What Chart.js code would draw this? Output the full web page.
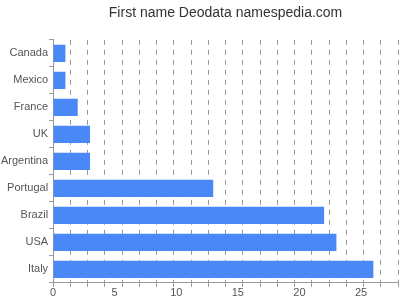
<!DOCTYPE html>
<html>
<head>
<meta charset="utf-8">
<script src="https://cdn.jsdelivr.net/npm/chart.js@4"></script>
<style>
    html, body { margin: 0; padding: 0; background: #fff; }
    #wrap { width: 400px; height: 300px; }
</style>
</head>
<body>
<div id="wrap"><canvas id="chart"></canvas></div>
<script>
const countries = ['Canada', 'Mexico', 'France', 'UK', 'Argentina', 'Portugal', 'Brazil', 'USA', 'Italy'];
const counts = [1, 1, 2, 3, 3, 13, 22, 23, 26];
const xLabelTicks = [0, 5, 10, 15, 20, 25];
const xMax = 28;
const gridStep = 1.4;

const tickFont = { family: 'Liberation Sans, Arial, sans-serif', size: 11 };

new Chart('chart', {
    type: 'bar',
    data: {
        labels: countries,
        datasets: [{
            data: counts,
            backgroundColor: '#4a88f8',
            borderWidth: 0,
            barPercentage: 0.8,
            categoryPercentage: 0.8,
        }]
    },
    options: {
        indexAxis: 'y',
        responsive: true,
        maintainAspectRatio: false,
        animation: false,
        layout: { padding: { left: 0, right: 2, bottom: 0 } },
        plugins: {
            legend: { display: false },
            tooltip: { enabled: false },
            title: {
                display: true,
                fullSize: false,
                text: 'First name Deodata namespedia.com',
                color: '#333',
                font: { family: 'Liberation Sans, Arial, sans-serif', size: 14, weight: 'normal' },
                padding: { top: 5, bottom: 18 }
            }
        },
        scales: {
            // dashed grid, step 1.4
            x: {
                position: 'bottom',
                min: 0,
                max: xMax,
                ticks: { display: false, stepSize: gridStep },
                grid: { color: '#999', tickColor: '#999', tickLength: 4 },
                border: { color: '#999', dash: [5, 5] }
            },
            // labels only
            x2: {
                position: 'bottom',
                min: 0,
                max: xMax,
                afterBuildTicks: (axis) => {
                    axis.ticks = xLabelTicks.map(v => ({ value: v }));
                },
                ticks: { color: '#555', font: tickFont, padding: 0, autoSkip: false, maxRotation: 0 },
                grid: { display: false, drawTicks: false, tickLength: 0 },
                border: { display: false }
            },
            y: {
                ticks: { color: '#555', font: tickFont, padding: 1 },
                grid: { drawOnChartArea: false, tickColor: '#999', tickLength: 4 },
                border: { color: '#999' }
            }
        }
    }
});
</script>
</body>
</html>
